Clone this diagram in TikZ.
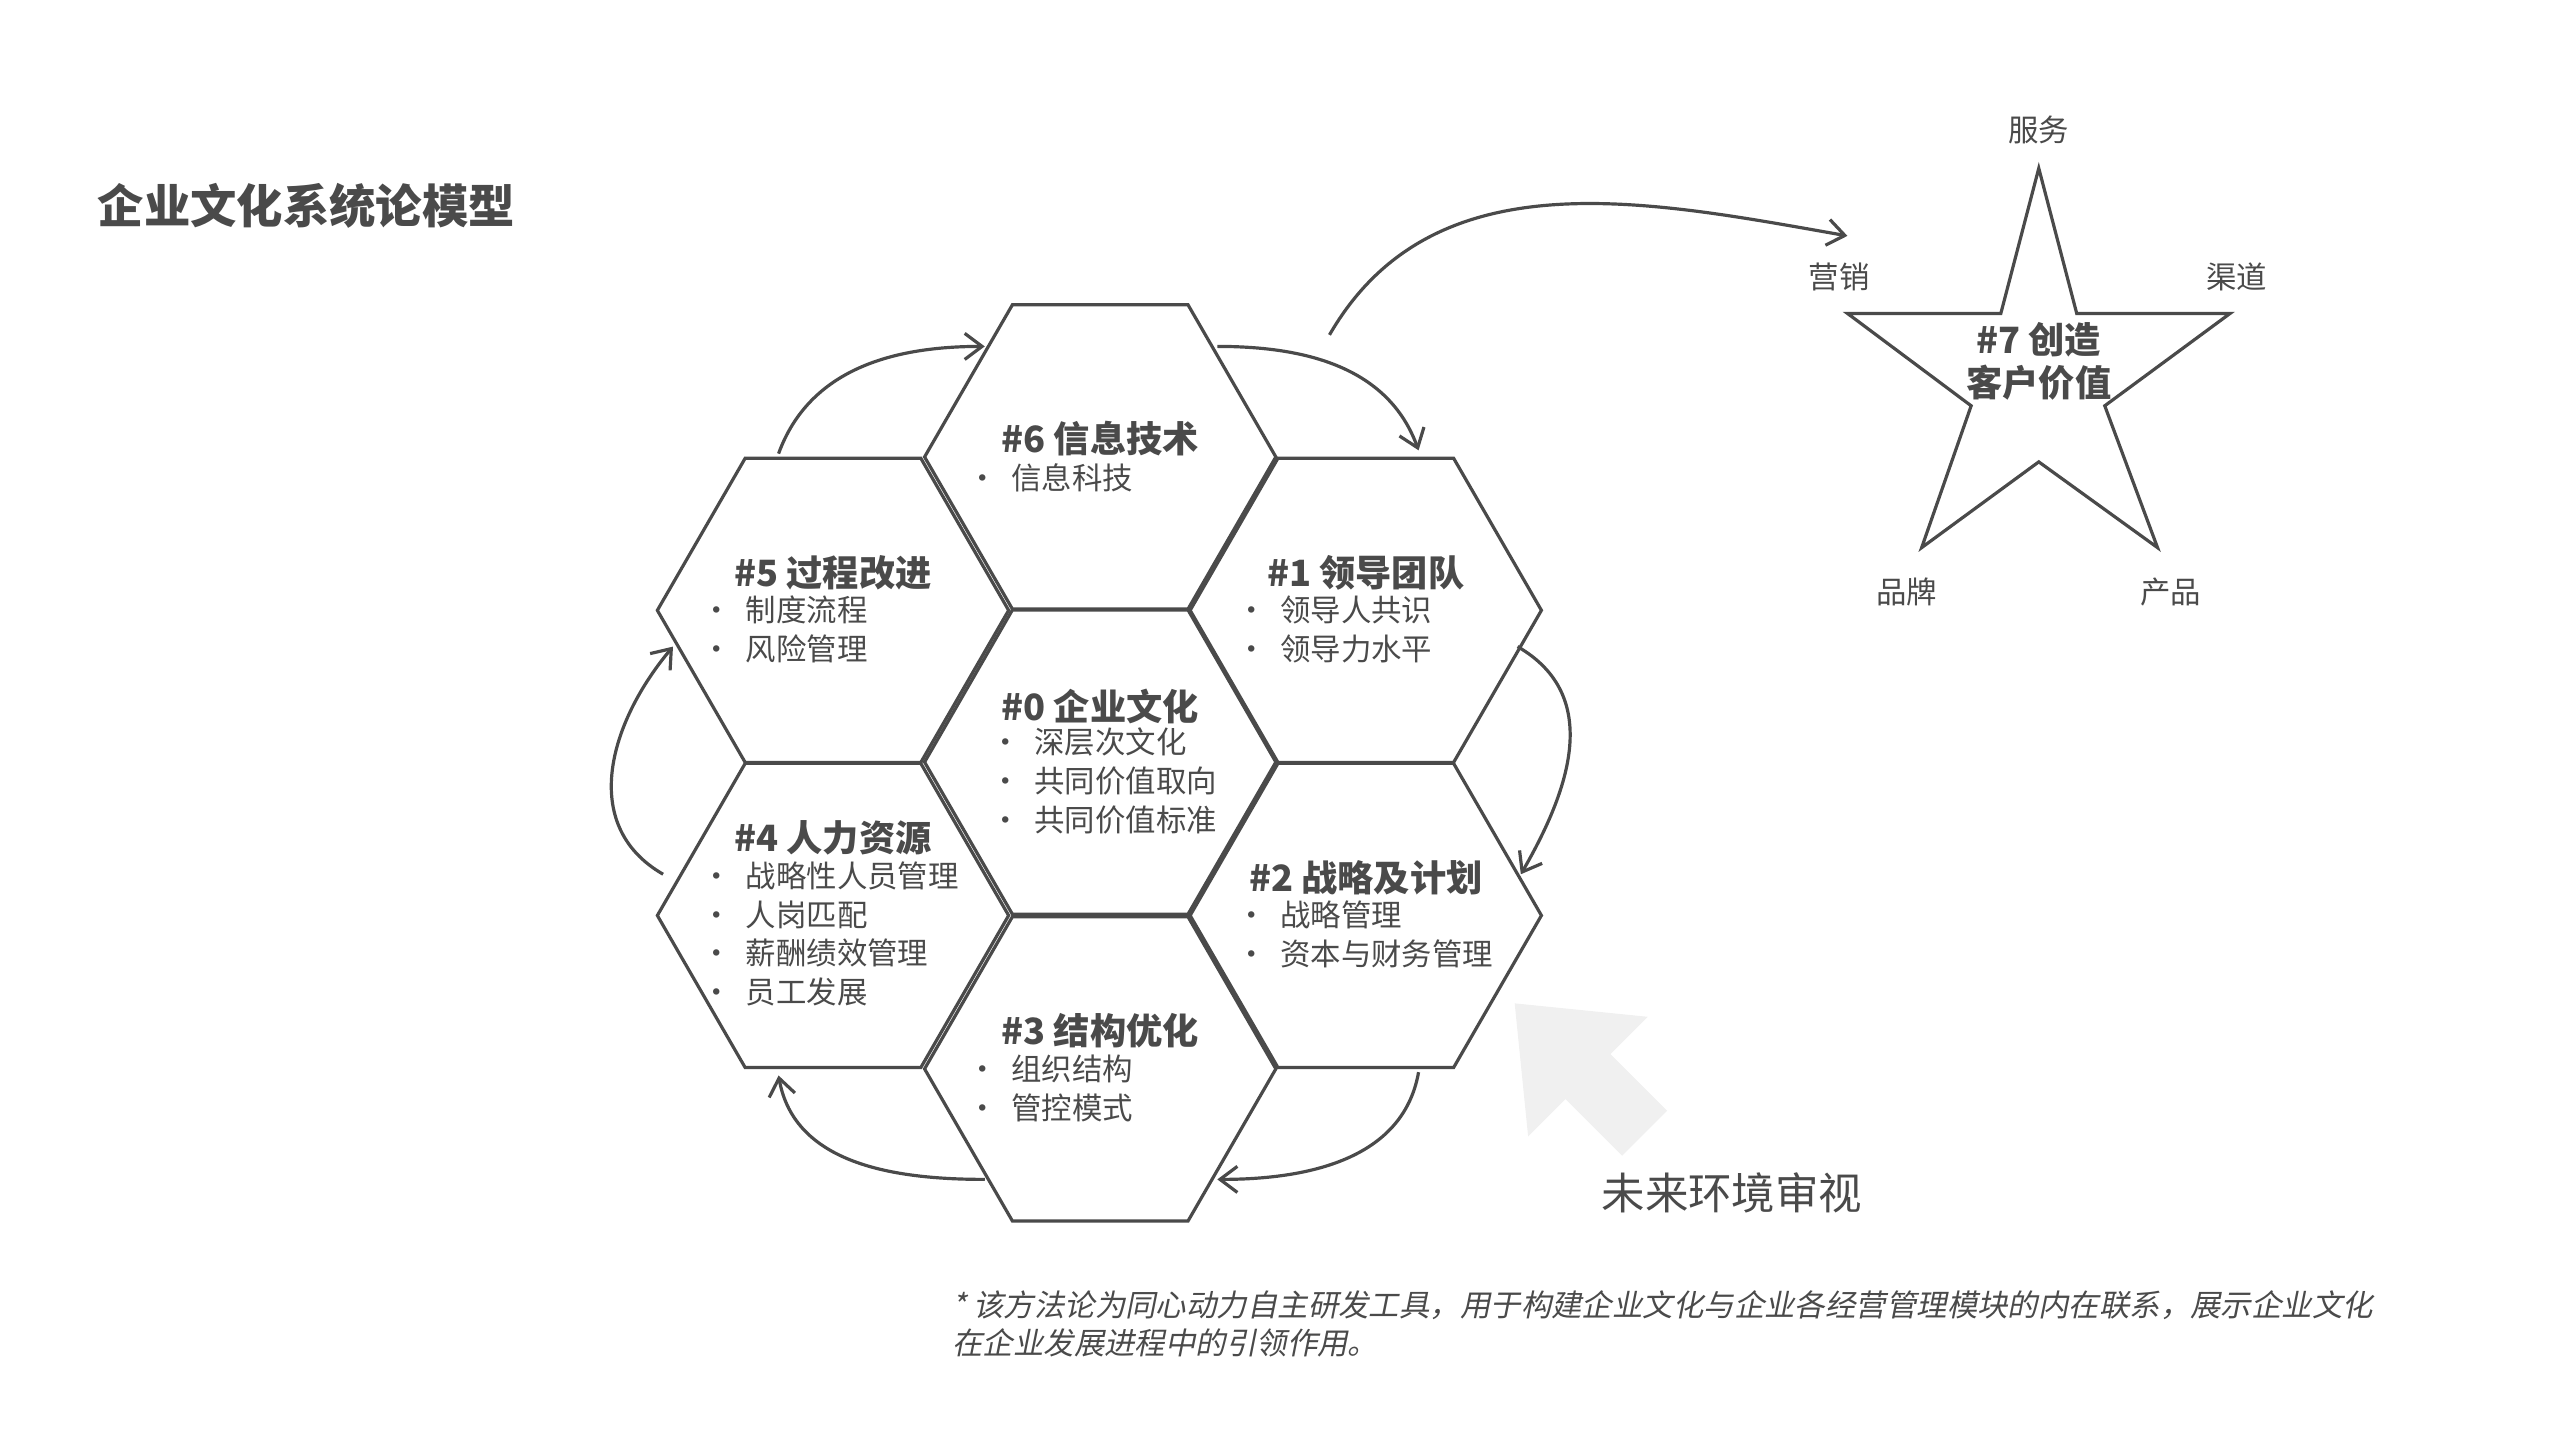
\documentclass[tikz,border=0pt]{standalone}
\usepackage{fontspec}
\setmainfont{Noto Sans CJK SC}
\newfontfamily\cjkit{Noto Sans CJK SC}[FakeSlant=0.2]
\usetikzlibrary{shapes.geometric,arrows.meta,positioning}
\definecolor{ink}{HTML}{4A4A4A}
\tikzset{
  hex/.style={draw=ink, line width=1.1pt, regular polygon, regular polygon sides=6, minimum size=4.26cm, inner sep=0pt, outer sep=0pt},
  htitle/.style={font=\fontsize{12.5}{15}\selectfont\bfseries, text=ink},
  hlist/.style={font=\fontsize{10.5}{13.4}\selectfont, text=ink, align=left, anchor=north west, inner sep=0pt},
  cyc/.style={draw=ink, line width=1.1pt, -{Straight Barb[length=6pt,width=9pt]}},
  slabel/.style={font=\fontsize{10.5}{13}\selectfont, text=ink}
}
\newcommand{\blt}{\textbullet\hspace{0.45em}}
\begin{document}
\begin{tikzpicture}[x=0.02cm, y=-0.02cm]
  \useasboundingbox (0,0) rectangle (1552,873);

  % title
  \node[anchor=west, font=\fontsize{16}{19}\selectfont\bfseries, text=ink] (title) at (53,125) {企业文化系统论模型};

  % hexagons
  \node[hex] (h0) at (667,462) {};
  \node[hex] (h6) at (667,277) {};
  \node[hex] (h1) at (828,370) {};
  \node[hex] (h2) at (828,555) {};
  \node[hex] (h3) at (667,648) {};
  \node[hex] (h4) at (505,555) {};
  \node[hex] (h5) at (505,370) {};

  % hexagon texts
  \node[htitle] (t0) at (667,428) {\#0 企业文化};
  \node[hlist] (l0) at (600,441) {\blt 深层次文化\\ \blt 共同价值取向\\ \blt 共同价值标准};
  \node[htitle] (t6) at (667,266) {\#6 信息技术};
  \node[hlist] (l6) at (586,281) {\blt 信息科技};
  \node[htitle] (t1) at (828,347) {\#1 领导团队};
  \node[hlist] (l1) at (749,361) {\blt 领导人共识\\ \blt 领导力水平};
  \node[htitle] (t2) at (828,532) {\#2 战略及计划};
  \node[hlist] (l2) at (749,546) {\blt 战略管理\\ \blt 资本与财务管理};
  \node[htitle] (t3) at (667,625) {\#3 结构优化};
  \node[hlist] (l3) at (586,639) {\blt 组织结构\\ \blt 管控模式};
  \node[htitle] (t4) at (505,508) {\#4 人力资源};
  \node[hlist] (l4) at (425,522) {\blt 战略性人员管理\\ \blt 人岗匹配\\ \blt 薪酬绩效管理\\ \blt 员工发展};
  \node[htitle] (t5) at (505,347) {\#5 过程改进};
  \node[hlist] (l5) at (425,361) {\blt 制度流程\\ \blt 风险管理};

  % cycle arrows
  \draw[cyc] (472,275) to[out=70,in=180] (597,210);
  \draw[cyc] (738,210) to[out=0,in=110] (860,273);
  \draw[cyc] (920,392) to[out=-30,in=60,looseness=1.1] (922,530);
  \draw[cyc] (860,650) to[out=-100,in=0] (738,715);
  \draw[cyc] (597,715) to[out=180,in=-80] (472,652);
  \draw[cyc] (402,530) to[out=150,in=-130,looseness=1.1] (408,392);

  % star
  \draw[ink, line width=1.1pt] (1236,102) -- (1259,190) -- (1352,190) -- (1276,246) -- (1308,332)
    -- (1236,280) -- (1165,332) -- (1195,246) -- (1120,190) -- (1213,190) -- cycle;
  \node[font=\fontsize{12.5}{15}\selectfont\bfseries, text=ink, align=center] (t7) at (1236,219) {\#7 创造\\客户价值};
  \node[slabel] (s1) at (1236,79) {服务};
  \node[slabel] (s2) at (1115,168) {营销};
  \node[slabel] (s3) at (1356,168) {渠道};
  \node[slabel] (s4) at (1156,359) {品牌};
  \node[slabel] (s5) at (1316,359) {产品};
  \coordinate (outA) at (806,203);
  \coordinate (outB) at (1120,143);
  \draw[cyc] (outA) to[out=60,in=170] (outB);

  % environment arrow
  \coordinate (envA) at (997,687);
  \coordinate (envB) at (918,608);
  \draw[gray!12, line width=22pt, -{Triangle[length=36pt,width=56pt]}] (envA) -- (envB);
  \node[font=\fontsize{15}{18}\selectfont, text=ink] (env) at (1050,723) {未来环境审视};

  % footnote
  \node[anchor=north west, align=left, inner sep=0pt, text=ink, font=\cjkit\fontsize{10.5}{13}\selectfont] (note) at (577,782)
    {* 该方法论为同心动力自主研发工具，用于构建企业文化与企业各经营管理模块的内在联系，展示企业文化\\在企业发展进程中的引领作用。};
\end{tikzpicture}
\end{document}
